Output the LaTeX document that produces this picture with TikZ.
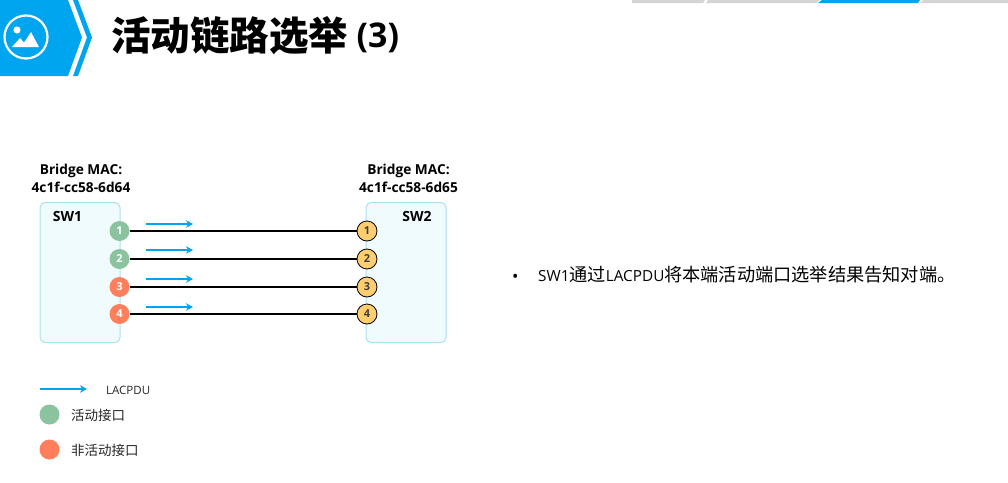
\documentclass[tikz,border=0pt]{standalone}
\usepackage{fontspec}
\setmainfont{Open Sans}
\newfontfamily\cjk{Noto Sans CJK SC}
\usetikzlibrary{arrows.meta}
\definecolor{hdrblue}{RGB}{0,165,240}
\definecolor{boxfill}{RGB}{240,251,254}
\definecolor{boxline}{RGB}{170,225,240}
\definecolor{portgreen}{RGB}{139,195,158}
\definecolor{portred}{RGB}{255,127,92}
\definecolor{portyellow}{RGB}{255,206,110}
\tikzset{
	swbox/.style={draw=boxline,fill=boxfill,line width=1pt,rounded corners=5pt,minimum width=80pt,minimum height=140pt,inner sep=0pt},
	macl/.style={font=\bfseries\fontsize{13.7}{18}\selectfont,align=center,inner sep=0pt},
	swl/.style={font=\bfseries\fontsize{14}{16}\selectfont,inner sep=0pt},
	portl/.style={circle,minimum size=20pt,inner sep=0pt,font=\bfseries\fontsize{11}{13}\selectfont},
	active/.style={portl,fill=portgreen,text=white},
	inactive/.style={portl,fill=portred,text=white},
	peer/.style={portl,fill=portyellow,draw=black,line width=0.8pt,text=black!75},
	link/.style={draw=black,line width=1.2pt},
	pdu/.style={draw=hdrblue,line width=2.4pt,-{Stealth[length=7pt,width=7.5pt]}},
	legend/.style={font=\cjk\fontsize{13.5}{15}\selectfont,anchor=west,inner sep=0pt,text=black!85},
	tab/.style={fill=black!17,draw=none}
}
\begin{document}
\begin{tikzpicture}[x=1pt,y=-1pt]
\useasboundingbox (0,0) rectangle (1008,482);

% header
\fill[hdrblue] (0,0) -- (68,0) -- (82,37.5) -- (68,76) -- (0,76) -- cycle;
\fill[hdrblue] (73,0) -- (78,0) -- (92,37.5) -- (78,76) -- (73,76) -- (87,37.5) -- cycle;
\draw[white,line width=2.2pt] (26,37) circle (21.5);
\fill[white] (17,30) circle (3.6);
\fill[white] (12,47) -- (20,38) -- (24,42.5) -- (31,32) -- (39,47) -- cycle;
\node[anchor=west,inner sep=0pt,font=\cjk\bfseries\fontsize{39.5}{44}\selectfont] (title) at (111,36) {活动链路选举};
\node[anchor=west,inner sep=0pt,font=\bfseries\fontsize{34}{36}\selectfont] (titlenum) at (356.5,37.5) {(3)};

% tabs
\fill[tab] (632,0) -- (705,0) -- (703,3) -- (632,3) -- cycle;
\fill[tab] (708,0) -- (820,0) -- (816,3) -- (706,3) -- cycle;
\fill[hdrblue] (822,0) -- (920,0) -- (918,3) -- (818,3) -- cycle;
\fill[tab] (923,0) -- (1008,0) -- (1008,3) -- (920,3) -- cycle;

% switches
\node[swbox] (sw1) at (80,272.5) {};
\node[swbox] (sw2) at (406,272.5) {};
\node[macl] (mac1) at (81,178.5) {Bridge MAC:\\4c1f-cc58-6d64};
\node[macl] (mac2) at (408.5,178.5) {Bridge MAC:\\4c1f-cc58-6d65};
\node[swl] (name1) at (67.5,216) {SW1};
\node[swl] (name2) at (417,216) {SW2};

% ports and links
\foreach[count=\i] \y/\s in {231/active,259/active,287/inactive,314/inactive}
{
	\node[\s] (a\i) at (119.5,\y) {\i};
	\node[peer] (b\i) at (367,\y) {\i};
	\draw[link] (a\i) -- (b\i);
}
\foreach[count=\i] \y in {224,250,279,307}
{
	\coordinate (p\i) at (146,\y);
	\coordinate (q\i) at (193,\y);
	\draw[pdu] (p\i) -- (q\i);
}

% legend
\coordinate (lp) at (40,389);
\coordinate (lq) at (87,389);
\draw[pdu] (lp) -- (lq);
\node[anchor=west,inner sep=0pt,font=\fontsize{11.5}{13}\selectfont,text=black!85] (lpdu) at (106,390) {LACPDU};
\node[portl,fill=portgreen] (lgreen) at (49.5,414.5) {};
\node[legend] (lact) at (71,415.5) {活动接口};
\node[portl,fill=portred] (lred) at (49.5,449.5) {};
\node[legend] (lina) at (71,450.5) {非活动接口};

% text
\node[anchor=west,inner sep=0pt,font=\fontsize{17}{18}\selectfont] (dot) at (512,278) {•};
\node[anchor=west,inner sep=0pt,font=\fontsize{15.3}{18}\selectfont] (desc) at (538,275) {SW1{\cjk\fontsize{18.2}{18}\selectfont 通过}LACPDU{\cjk\fontsize{18.2}{18}\selectfont 将本端活动端口选举结果告知对端。}};

\end{tikzpicture}
\end{document}
